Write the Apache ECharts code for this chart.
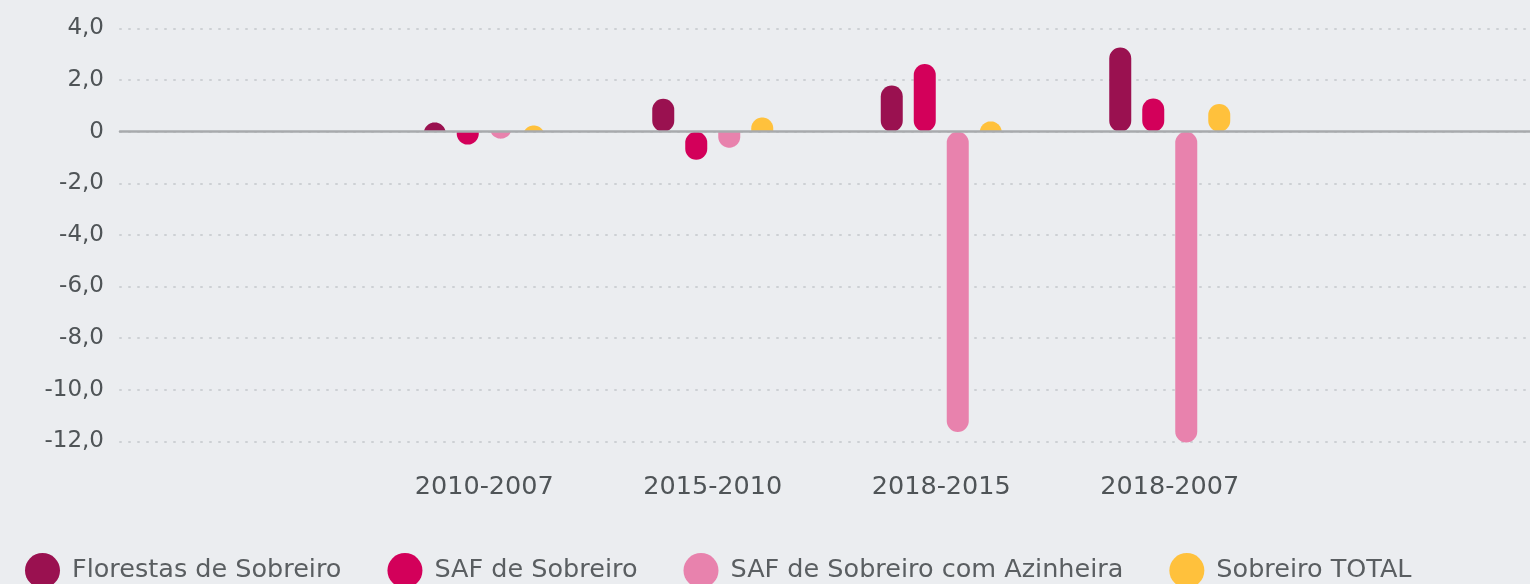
<!DOCTYPE html>
<html>
<head>
<meta charset="utf-8">
<script src="https://cdn.jsdelivr.net/npm/echarts@6/dist/echarts.min.js"></script>
<style>
  html, body { margin: 0; padding: 0; background: #ebedf0; }
  #chart { width: 1530px; height: 584px; }
</style>
</head>
<body>
<div id="chart"></div>
<script>
const periods = ['2010-2007', '2015-2010', '2018-2015', '2018-2007'];
const seriesNames = ['Florestas de Sobreiro', 'SAF de Sobreiro', 'SAF de Sobreiro com Azinheira', 'Sobreiro TOTAL'];
const florestas = [0.36, 1.28, 1.79, 3.26];
const saf = [-0.5, -1.09, 2.62, 1.29];
const safAzinheira = [-0.27, -0.62, -11.64, -12.05];
const total = [0.24, 0.55, 0.4, 1.07];
const colors = ['#9a1150', '#d3005a', '#e882ad', '#ffc13c'];

const FONT = '"DejaVu Sans", sans-serif';
const BAR_W = 22;
const BAR_STEP = 33;

const formatTick = (v) => (v === 0 ? '0' : v.toFixed(1).replace('.', ','));

// bar with a round cap; short bars keep a flat base on the zero line
const capPoints = (cx, y0, h, dir) => {
  const r = BAR_W / 2;
  const c = Math.max(h - r, -r);
  const pts = [[cx - r, y0]];
  for (let k = 0; k <= 32; k++) {
    const a = (Math.PI * k) / 32;
    const d = Math.max(c + r * Math.sin(a), 0);
    pts.push([cx - r * Math.cos(a), y0 + dir * d]);
  }
  pts.push([cx + r, y0]);
  return pts;
};

const renderBar = (params, api) => {
  const cat = api.value(0);
  const v = api.value(1);
  const base = api.coord([cat, 0]);
  const end = api.coord([cat, v]);
  const cx = base[0] + (params.seriesIndex - 1.5) * BAR_STEP;
  const h = Math.abs(end[1] - base[1]);
  const fill = api.visual('color');
  if (h >= BAR_W) {
    return {
      type: 'rect',
      shape: { x: cx - BAR_W / 2, y: Math.min(base[1], end[1]), width: BAR_W, height: h, r: BAR_W / 2 },
      style: { fill },
    };
  }
  return {
    type: 'polygon',
    shape: { points: capPoints(cx, base[1], h, v >= 0 ? -1 : 1) },
    style: { fill },
  };
};

const seriesData = [florestas, saf, safAzinheira, total];

const chart = echarts.init(document.getElementById('chart'));
chart.setOption({
  backgroundColor: '#ebedf0',
  color: colors,
  animation: false,
  textStyle: { fontFamily: FONT },
  legend: {
    left: 20,
    top: 548,
    icon: 'circle',
    itemWidth: 35,
    itemHeight: 36,
    itemGap: 46,
    textStyle: { fontSize: 25.5, color: '#5a5e61', fontFamily: FONT, padding: [0, 0, 0, 7] },
    data: seriesNames,
  },
  grid: [
    { left: 120, right: 0, top: 28.5, bottom: 142.7 },
    { left: 370, right: 246, top: 28.5, bottom: 142.7 },
  ],
  xAxis: [
    {
      type: 'value',
      gridIndex: 0,
      min: 0,
      max: 1,
      z: 5,
      axisLine: { show: true, onZero: true, lineStyle: { color: '#a8aaad', width: 2.5 } },
      axisTick: { show: false },
      axisLabel: { show: false },
      splitLine: { show: false },
    },
    {
      type: 'category',
      gridIndex: 1,
      data: periods,
      axisLine: { show: false, onZero: false },
      axisTick: { show: false },
      axisLabel: { color: '#4f5457', fontSize: 25.5, margin: 33, fontFamily: FONT },
    },
  ],
  yAxis: [
    {
      type: 'value',
      gridIndex: 0,
      min: -12,
      max: 4,
      interval: 2,
      axisLine: { show: false },
      axisTick: { show: false },
      axisLabel: { color: '#4f5457', fontSize: 23, margin: 16, formatter: formatTick, fontFamily: FONT },
      splitLine: { lineStyle: { color: '#cdd0d4', width: 2, type: [1, 8], cap: 'round' } },
    },
    {
      type: 'value',
      gridIndex: 1,
      min: -12,
      max: 4,
      show: false,
      splitLine: { show: false },
    },
  ],
  series: seriesNames.map((name, i) => ({
    name,
    type: 'custom',
    xAxisIndex: 1,
    yAxisIndex: 1,
    renderItem: renderBar,
    encode: { x: 0, y: 1 },
    data: seriesData[i].map((v, j) => [j, v]),
  })),
});
</script>
</body>
</html>
